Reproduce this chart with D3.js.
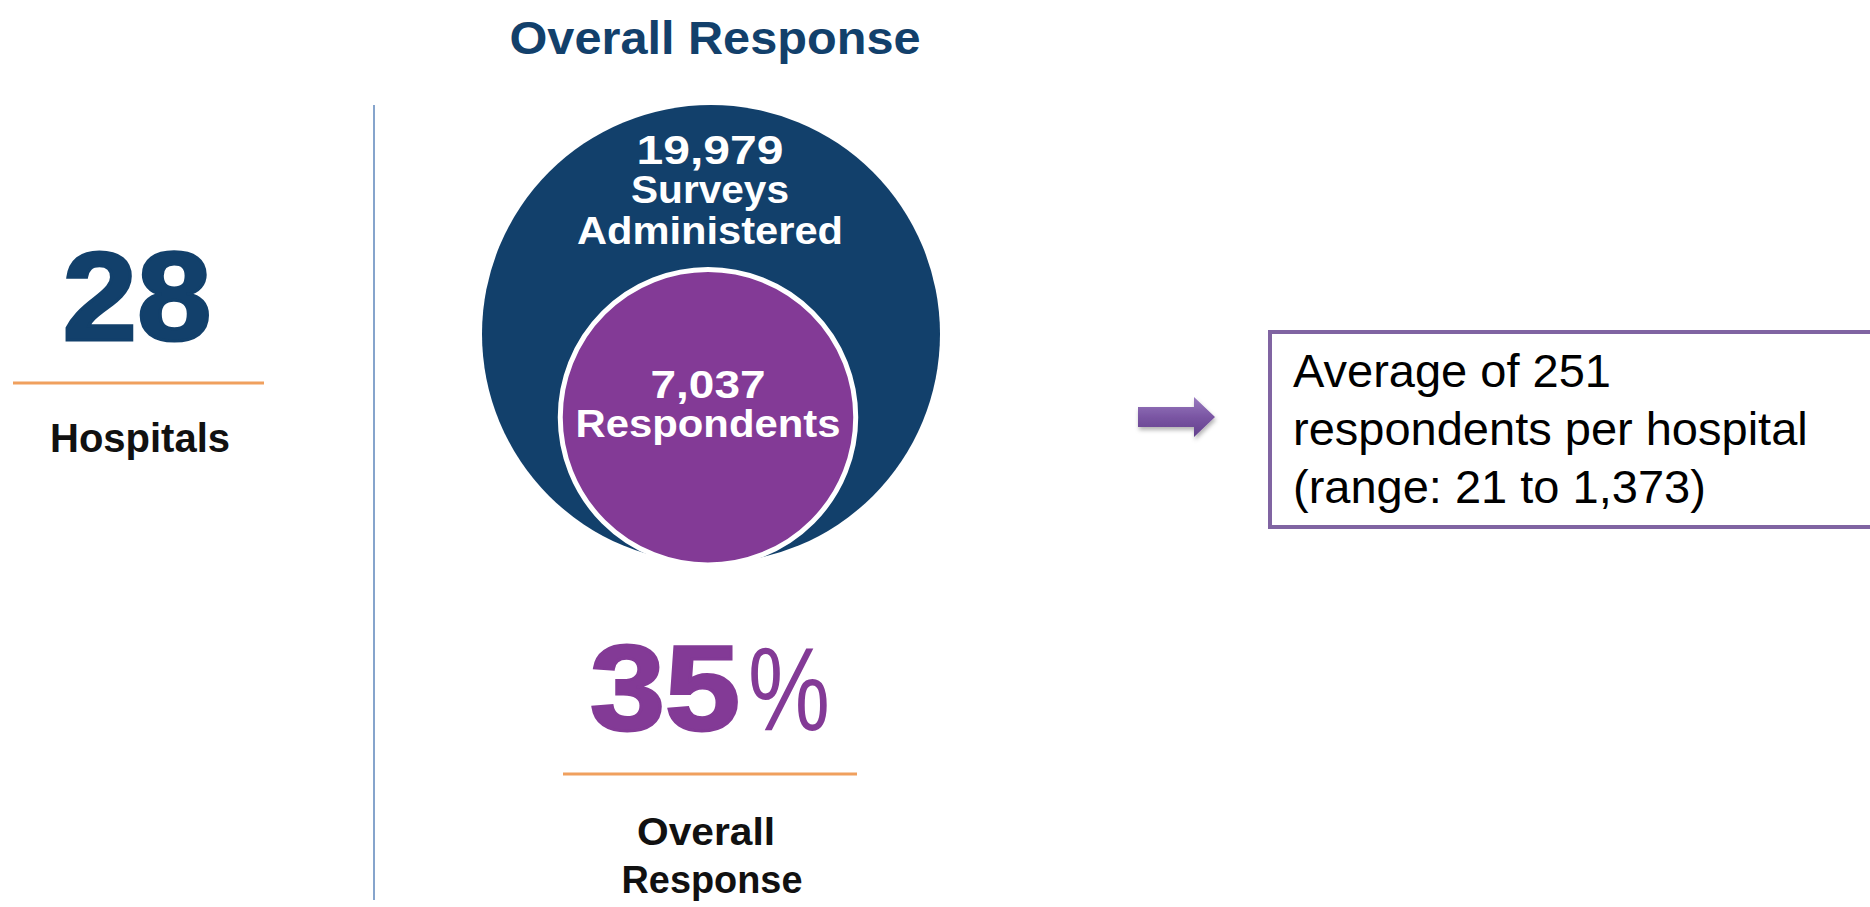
<!DOCTYPE html>
<html>
<head>
<meta charset="utf-8">
<script src="https://cdn.jsdelivr.net/npm/d3@7"></script>
<style>
  body { margin: 0; background: #fff; }
  text { font-family: "Liberation Sans", Arial, sans-serif; }
</style>
</head>
<body>
<div id="chart"></div>
<script>
// values
const hospitals = [28];
const circleLabels = ["Surveys Administered", "Respondents"];
const circleValues = [19979, 7037];
const responseRate = [35];
const avgPerHospital = [251];
const respondentRange = [21, 1373];

const width = 1870, height = 907;
const navy = "#12406b", purple = "#833a96", orange = "#f0a05e";
const fmt = d3.format(",");

const svg = d3.select("#chart")
  .append("svg")
  .attr("width", width)
  .attr("height", height)
  .attr("viewBox", `0 0 ${width} ${height}`);

// helper for the condensed bold labels - force the width seen in the picture
const label = (g, txt, x, y, size, len, fill, weight = "bold") =>
  g.append("text")
    .attr("x", x).attr("y", y)
    .attr("text-anchor", "middle")
    .attr("font-size", size)
    .attr("font-weight", weight)
    .attr("fill", fill)
    .attr("textLength", len)
    .attr("lengthAdjust", "spacingAndGlyphs")
    .text(txt);

// title
label(svg, "Overall Response", 715, 54, 46, 411, navy);

// left block: hospitals
const left = svg.append("g");
label(left, hospitals[0], 137, 340, 126, 149, navy)
  .attr("stroke", navy).attr("stroke-width", 3);
left.append("line")
  .attr("x1", 13).attr("x2", 264)
  .attr("y1", 383).attr("y2", 383)
  .attr("stroke", orange).attr("stroke-width", 3);
label(left, "Hospitals", 140, 452, 40, 180, "#111");

// divider
svg.append("line")
  .attr("x1", 374).attr("x2", 374)
  .attr("y1", 105).attr("y2", 900)
  .attr("stroke", "#86a4cc").attr("stroke-width", 2);

// nested circles
const rScale = d3.scalePow().exponent(0.42)
  .domain([0, d3.max(circleValues)])
  .range([0, 229]);

const cx = 710, outerCy = 334;
const R = rScale(circleValues[0]);
const r = rScale(circleValues[1]);
const circles = svg.append("g");

circles.append("circle")
  .attr("cx", cx + 1).attr("cy", outerCy).attr("r", R)
  .attr("fill", navy);
circles.append("circle")
  .attr("cx", cx - 2).attr("cy", outerCy + R - r + 2).attr("r", r)
  .attr("fill", purple)
  .attr("stroke", "#fff").attr("stroke-width", 5);

label(circles, fmt(circleValues[0]), cx, 164, 40, 147, "#fff");
label(circles, "Surveys", cx, 203, 38, 158, "#fff");
label(circles, "Administered", cx, 244, 38, 266, "#fff");
label(circles, fmt(circleValues[1]), cx - 2, 398, 38, 115, "#fff");
label(circles, circleLabels[1], cx - 2, 437, 38, 265, "#fff");

// response rate
const rate = svg.append("g");
rate.append("text")
  .attr("x", 590).attr("y", 730)
  .attr("font-size", 121).attr("font-weight", "bold")
  .attr("fill", purple).attr("stroke", purple).attr("stroke-width", 3)
  .attr("textLength", 150).attr("lengthAdjust", "spacingAndGlyphs")
  .text(responseRate[0]);
rate.append("text")
  .attr("x", 748).attr("y", 730)
  .attr("font-size", 118).attr("font-weight", "normal")
  .attr("font-family", "Lato, 'Liberation Sans', sans-serif")
  .attr("fill", purple)
  .attr("textLength", 82).attr("lengthAdjust", "spacingAndGlyphs")
  .text("%");
rate.append("line")
  .attr("x1", 563).attr("x2", 857)
  .attr("y1", 774).attr("y2", 774)
  .attr("stroke", orange).attr("stroke-width", 3);
label(rate, "Overall", 706, 845, 38, 138, "#111");
label(rate, "Response", 712, 893, 38, 181, "#111");

// arrow + callout box
const defs = svg.append("defs");
const grad = defs.append("linearGradient")
  .attr("id", "arrowGrad")
  .attr("x1", 0).attr("x2", 0).attr("y1", 0).attr("y2", 1);
grad.append("stop").attr("offset", "0%").attr("stop-color", "#9a7cc0");
grad.append("stop").attr("offset", "50%").attr("stop-color", "#7a55a3");
grad.append("stop").attr("offset", "100%").attr("stop-color", "#62408c");
const shadow = defs.append("filter").attr("id", "shadow")
  .attr("x", "-20%").attr("y", "-30%").attr("width", "150%").attr("height", "180%");
shadow.append("feDropShadow")
  .attr("dx", 1).attr("dy", 3).attr("stdDeviation", 2)
  .attr("flood-color", "#000").attr("flood-opacity", 0.3);

const arrowPts = [[1138, 407], [1194, 407], [1194, 397], [1215, 417],
                  [1194, 437], [1194, 427], [1138, 427]];
svg.append("path")
  .attr("d", d3.line()(arrowPts) + "Z")
  .attr("fill", "url(#arrowGrad)")
  .attr("filter", "url(#shadow)");

svg.append("rect")
  .attr("x", 1270).attr("y", 332)
  .attr("width", 640).attr("height", 195)
  .attr("fill", "#fff")
  .attr("stroke", "#8064a2").attr("stroke-width", 4);

const boxLines = [
  `Average of ${avgPerHospital[0]}`,
  "respondents per hospital",
  `(range: ${respondentRange[0]} to ${fmt(respondentRange[1])})`
];
svg.append("g")
  .selectAll("text")
  .data(boxLines)
  .join("text")
    .attr("x", 1293)
    .attr("y", (d, i) => 387 + i * 58)
    .attr("font-size", 47)
    .attr("fill", "#000")
    .text(d => d);
</script>
</body>
</html>
